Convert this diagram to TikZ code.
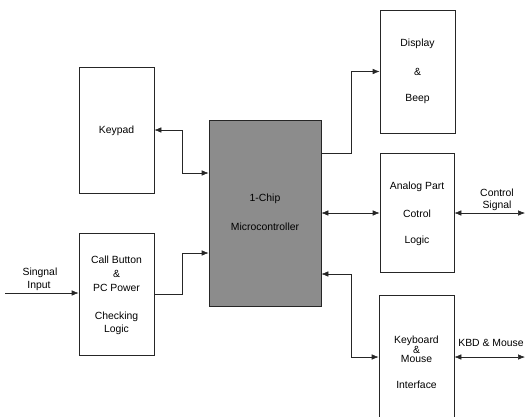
\documentclass[tikz,border=0pt]{standalone}
\usepackage{fontspec}
\setmainfont{Liberation Sans}
\usetikzlibrary{arrows.meta}
\begin{document}
\begin{tikzpicture}[x=1pt,y=-1pt,
  blk/.style={draw=black!85,line width=0.6pt,inner sep=0pt,minimum width=75pt},
  txt/.style={font=\fontsize{10.4}{12}\selectfont,inner sep=0pt},
  conn/.style={line width=0.6pt,black!85,{Latex[length=7pt,width=5.5pt]}-{Latex[length=7pt,width=5.5pt]}},
  conr/.style={line width=0.6pt,black!85,-{Latex[length=7pt,width=5.5pt]}}]
\useasboundingbox (0,0) rectangle (527,416);
% boxes
\node[blk,minimum height=126pt] (keypad) at (116.5,130) {};
\node[blk,minimum height=122pt] (call) at (116.5,294) {};
\node[blk,minimum width=112pt,minimum height=186pt,fill=black!45] (micro) at (265,213) {};
\node[blk,minimum height=123pt] (disp) at (417.5,71.5) {};
\node[blk,minimum width=74pt,minimum height=119pt] (analog) at (417,212.5) {};
\node[blk,minimum height=130pt] (kbd) at (416.5,360) {};
% texts
\node[txt] (t1) at (116.5,131) {Keypad};
\node[txt] (t2) at (116.5,260) {Call Button};
\node[txt] (t3) at (116.5,274) {\&};
\node[txt] (t4) at (116.5,288) {PC Power};
\node[txt] (t5) at (116.5,317) {Checking};
\node[txt] (t6) at (116.5,330) {Logic};
\node[txt] (t7) at (265,199) {1-Chip};
\node[txt] (t8) at (265,227) {Microcontroller};
\node[txt] (t9) at (417.5,44) {Display};
\node[txt] (t10) at (417.5,72) {\&};
\node[txt] (t11) at (417.5,99) {Beep};
\node[txt] (t12) at (417,187) {Analog Part};
\node[txt] (t13) at (417,214) {Cotrol};
\node[txt] (t14) at (417,241) {Logic};
\node[txt] (t15) at (416.5,341) {Keyboard};
\node[txt] (t16) at (416.5,350) {\&};
\node[txt] (t17) at (416.5,359) {Mouse};
\node[txt] (t18) at (416.5,385) {Interface};
\node[txt] (t19) at (40,273) {Singnal};
\node[txt] (t20) at (39,286) {Input};
\node[txt] (t21) at (497,193) {Control};
\node[txt] (t22) at (497,206) {Signal};
\node[txt] (t23) at (491,343) {KBD \& Mouse};
% connectors
\coordinate (sig) at (5,293);
\coordinate (ctl) at (525,213);
\coordinate (km) at (525,357);
\draw[conn] (keypad.east) -- (182,130) |- (micro.west |- 0,173);
\draw[conr] (sig) -- (call.west |- sig);
\draw[conr] (call.east |- 0,294) -- (182,294) |- (micro.west |- 0,253);
\draw[conr] (micro.east |- 0,153) -- (351,153) |- (disp.west);
\draw[conn] (micro.east |- 0,213) -- (analog.west |- 0,213);
\draw[conn] (analog.east |- ctl) -- (ctl);
\draw[conn] (micro.east |- 0,274) -- (351,274) |- (kbd.west |- 0,357);
\draw[conn] (kbd.east |- km) -- (km);
\end{tikzpicture}
\end{document}
